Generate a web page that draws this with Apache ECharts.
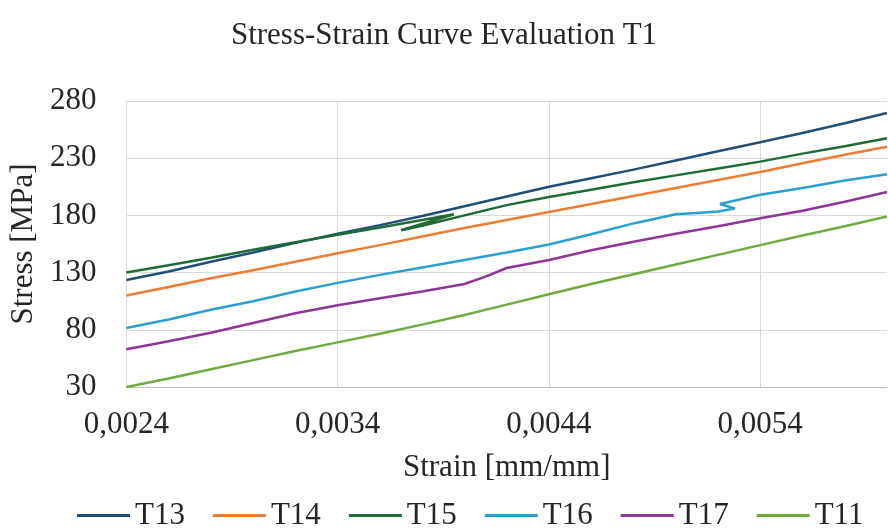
<!DOCTYPE html>
<html>
<head>
<meta charset="utf-8">
<script src="https://cdn.jsdelivr.net/npm/echarts@6/dist/echarts.min.js"></script>
<style>html,body{margin:0;padding:0;background:#fff}#c{width:888px;height:530px}</style>
</head>
<body>
<div id="c"></div>
<script>
const seriesNames = ['T13', 'T14', 'T15', 'T16', 'T17', 'T11'];
const colors = ['#1F4E79', '#ED7D31', '#1E6B35', '#2A9FD0', '#8E3598', '#6FAA3F'];
const xTicks = [0.0024, 0.0034, 0.0044, 0.0054];
const yTicks = [30, 80, 130, 180, 230, 280];

const strainT13 = [0.0024,0.0026,0.0028,0.0030,0.0032,0.0034,0.0036,0.0038,0.0040,0.0042,0.0044,0.0046,0.0048,0.0050,0.0052,0.0054,0.0056,0.0058,0.0060];
const stressT13 = [123.5,131,139.5,147.5,156,164,171.5,179.5,188,196.5,205,212.5,220,228,236,244,252,260.5,269.5];

const strainT14 = [0.0024,0.0026,0.0028,0.0030,0.0032,0.0034,0.0036,0.0038,0.0040,0.0042,0.0044,0.0046,0.0048,0.0050,0.0052,0.0054,0.0056,0.0058,0.0060];
const stressT14 = [110,117.5,125,132,139.5,147,154,161.5,169,176,183,190,197,204,211,218,225.5,233,240];

const strainT15 = [0.0024,0.0026,0.0028,0.0030,0.0032,0.0034,0.0036,0.0038,0.00395,0.0037,0.0038,0.0040,0.0042,0.0044,0.0046,0.0048,0.0050,0.0052,0.0054,0.0056,0.0058,0.0060];
const stressT15 = [130,136.5,143,150,156.5,163,169.5,176,181,167,171,180,189,196,202.5,209,215,221,227,234,240.5,247.5];

const strainT16 = [0.0024,0.0026,0.0028,0.0030,0.0032,0.0034,0.0036,0.0038,0.0040,0.0042,0.0044,0.0046,0.0048,0.0050,0.0051,0.0052,0.00528,0.00521,0.0054,0.0056,0.0058,0.0060];
const stressT16 = [81.5,89,97.5,105,113.5,121,128,134.5,141,147.5,154.5,163.5,173,181,182,183.5,186,190,198,204,210.5,216];

const strainT17 = [0.0024,0.0026,0.0028,0.0030,0.0032,0.0034,0.0036,0.0038,0.0040,0.0041,0.0042,0.0044,0.0046,0.0048,0.0050,0.0052,0.0054,0.0056,0.0058,0.0060];
const stressT17 = [63,70,77.5,86,94.5,101.5,107.5,113.5,120,126.5,134,141,149.5,157,164,170.5,177.5,184,192,200.5];

const strainT11 = [0.0024,0.0026,0.0028,0.0030,0.0032,0.0034,0.0036,0.0038,0.0040,0.0042,0.0044,0.0046,0.0048,0.0050,0.0052,0.0054,0.0056,0.0058,0.0060];
const stressT11 = [30,37.5,45.5,53.5,61.5,69,76.5,84.5,93,102,111,120,128.5,137,145.5,154,162.5,170.5,179];

const strains = [strainT13, strainT14, strainT15, strainT16, strainT17, strainT11];
const stresses = [stressT13, stressT14, stressT15, stressT16, stressT17, stressT11];

const FONT = "'Times New Roman', 'Liberation Serif', serif";
const chart = echarts.init(document.getElementById('c'), null, {renderer: 'canvas'});
chart.setOption({
  animation: false,
  backgroundColor: '#fff',
  color: colors,
  title: {
    text: 'Stress-Strain Curve Evaluation T1',
    left: 'center', top: 15,
    textStyle: {fontFamily: FONT, fontSize: 31, fontWeight: 'normal', color: '#262626'}
  },
  legend: {
    data: seriesNames,
    left: 77, top: 500, padding: 0,
    icon: 'rect', itemWidth: 53, itemHeight: 3, itemGap: 28,
    textStyle: {fontFamily: FONT, fontSize: 31, color: '#262626'}
  },
  grid: {left: 123, right: 1, top: 101, bottom: 143, containLabel: false},
  xAxis: {
    type: 'value', min: 0.0024, max: 0.006,
    name: 'Strain [mm/mm]', nameLocation: 'middle', nameGap: 65,
    nameTextStyle: {fontFamily: FONT, fontSize: 31, color: '#262626'},
    axisLine: {show: true, lineStyle: {color: '#bfbfbf', width: 1}},
    axisTick: {show: false, customValues: xTicks},
    axisLabel: {customValues: xTicks, margin: 22, fontFamily: FONT, fontSize: 31, color: '#262626',
      formatter: v => v.toFixed(4).replace('.', ',')},
    splitLine: {show: true, lineStyle: {color: '#d9d9d9', width: 1}}
  },
  yAxis: {
    type: 'value', min: 30, max: 280,
    name: 'Stress [MPa]', nameLocation: 'middle', nameGap: 77,
    nameTextStyle: {fontFamily: FONT, fontSize: 31, color: '#262626'},
    axisLine: {show: true, lineStyle: {color: '#d9d9d9', width: 1}},
    axisTick: {show: false, customValues: yTicks},
    axisLabel: {customValues: yTicks, margin: 30, fontFamily: FONT, fontSize: 31, color: '#262626'},
    splitLine: {show: true, lineStyle: {color: '#d9d9d9', width: 1}}
  },
  series: seriesNames.map((n, i) => ({
    name: n, type: 'line', showSymbol: false, symbol: 'none',
    lineStyle: {width: 2.5, color: colors[i]},
    itemStyle: {color: colors[i]},
    data: strains[i].map((x, j) => [x, stresses[i][j]])
  }))
});
</script>
</body>
</html>
